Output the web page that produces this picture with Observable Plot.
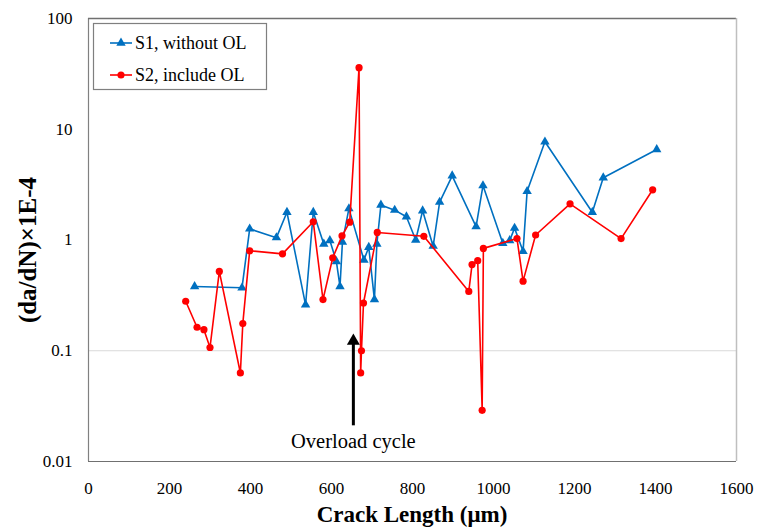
<!DOCTYPE html>
<html>
<head>
<meta charset="utf-8">
<script src="https://cdn.jsdelivr.net/npm/d3@7"></script>
<script src="https://cdn.jsdelivr.net/npm/@observablehq/plot@0.6"></script>
<style>
  html, body { margin: 0; padding: 0; background: #fff; }
  #chart { position: relative; width: 757px; height: 530px; }
</style>
</head>
<body>
<div id="chart"></div>
<script>
// ---- data ----
const s1Name = "S1, without OL";
const s1X = [262,379,398,464,490,536,555,581,596,612,621,627,643,680,692,706,712,722,756,785,808,825,851,867,898,957,974,1023,1040,1052,1073,1083,1127,1244,1271,1403];
const s1Y = [0.38,0.37,1.26,1.05,1.78,0.26,1.78,0.92,0.99,0.64,0.38,0.96,1.92,0.66,0.86,0.29,0.92,2.07,1.86,1.62,1.0,1.84,0.88,2.2,3.8,1.32,3.1,0.935,0.99,1.28,0.79,2.75,7.7,1.78,3.65,6.56];

const s2Name = "S2, include OL";
const s2X = [240,268,285,300,323,375,381,398,479,555,579,603,626,645,668,672,674,679,713,828,939,947,961,972,975,1058,1073,1104,1189,1315,1393];
const s2Y = [0.28,0.163,0.155,0.107,0.52,0.063,0.176,0.80,0.75,1.46,0.29,0.69,1.09,1.45,36,0.063,0.1,0.27,1.17,1.08,0.343,0.60,0.65,0.029,0.84,1.03,0.425,1.11,2.12,1.03,2.84];

const xTicks = [0,200,400,600,800,1000,1200,1400,1600];
const yTicks = [0.01,0.1,1,10,100];
const gridY = [0.1];

const xTitle = "Crack Length (μm)";
const yTitle = "(da/dN)×1E-4";

// annotation: overload arrow and label
const annX = [654];
const annArrowFrom = [0.021];
const annArrowTo = [0.1225];
const annLabel = ["Overload cycle"];
const annLabelY = [0.0151];

const s1 = s1X.map((x, i) => ({x, y: s1Y[i]}));
const s2 = s2X.map((x, i) => ({x, y: s2Y[i]}));
const ann = annX.map((x, i) => ({x, y1: annArrowFrom[i], y2: annArrowTo[i], label: annLabel[i], ly: annLabelY[i]}));

const blue = "#0070C0";
const red = "#FF0000";
const serif = "'Liberation Serif', 'Times New Roman', serif";

const chart = Plot.plot({
  width: 757,
  height: 530,
  marginLeft: 88,
  marginRight: 21,
  marginTop: 18,
  marginBottom: 69,
  style: {fontFamily: serif, fontSize: "17px", color: "#000", background: "#fff", overflow: "visible"},
  x: {domain: [0, 1600], ticks: xTicks, tickSize: 0, tickPadding: 20, tickFormat: d => String(d), label: null},
  y: {type: "log", domain: [0.01, 100], ticks: yTicks, tickSize: 0, tickPadding: 16, tickFormat: d => String(d), label: null},
  marks: [
    Plot.ruleY(gridY, {stroke: "#d9d9d9", strokeWidth: 1}),
    Plot.ruleX([0], {stroke: "#808080", strokeWidth: 1.2}),
    Plot.ruleY([100], {stroke: "#707070", strokeWidth: 1.5}),
    Plot.ruleY([0.01], {stroke: "#707070", strokeWidth: 1.2}),
    Plot.ruleX([1600], {stroke: "#bfbfbf", strokeWidth: 1.5}),
    Plot.line(s1, {x: "x", y: "y", stroke: blue, strokeWidth: 1.6}),
    Plot.dot(s1, {x: "x", y: "y", symbol: "triangle", r: 3.5, fill: blue, stroke: "none"}),
    Plot.line(s2, {x: "x", y: "y", stroke: red, strokeWidth: 1.6}),
    Plot.dot(s2, {x: "x", y: "y", symbol: "circle", r: 3.6, fill: red, stroke: "none"}),
    Plot.ruleX(ann, {x: "x", y1: "y1", y2: "y2", stroke: "#000", strokeWidth: 3}),
    Plot.dot(ann, {x: "x", y: "y2", symbol: "triangle", r: 4.8, fill: "#000", stroke: "none"}),
    Plot.text(ann, {x: "x", y: "ly", text: "label", fontSize: 20.5, fontFamily: serif, fill: "#000"})
  ]
});

document.getElementById("chart").appendChild(chart);

// titles and legend
const svg = d3.select(chart);
svg.append("text")
  .attr("x", 412).attr("y", 522)
  .attr("text-anchor", "middle")
  .attr("font-family", serif).attr("font-size", 23).attr("font-weight", "bold")
  .attr("fill", "#000")
  .text(xTitle);
svg.append("text")
  .attr("transform", "translate(36,250) rotate(-90)")
  .attr("text-anchor", "middle")
  .attr("font-family", serif).attr("font-size", 25).attr("font-weight", "bold")
  .attr("fill", "#000")
  .text(yTitle);

const legendItems = [
  {name: s1Name, color: blue, symbol: d3.symbolTriangle, size: 38},
  {name: s2Name, color: red, symbol: d3.symbolCircle, size: 40}
];
const lg = svg.append("g");
lg.append("rect").attr("x", 93.5).attr("y", 23.5).attr("width", 173).attr("height", 66)
  .attr("fill", "#fff").attr("stroke", "#7f7f7f").attr("stroke-width", 1.2);
legendItems.forEach((it, i) => {
  const cy = 43 + i * 32;
  lg.append("line").attr("x1", 110).attr("x2", 132).attr("y1", cy).attr("y2", cy)
    .attr("stroke", it.color).attr("stroke-width", 1.6);
  lg.append("path").attr("d", d3.symbol(it.symbol, it.size)()).attr("transform", `translate(121,${cy})`)
    .attr("fill", it.color);
  lg.append("text").attr("x", 135).attr("y", cy + 6)
    .attr("text-anchor", "start")
    .attr("font-family", serif).attr("font-size", 18).attr("fill", "#000")
    .text(it.name);
});
</script>
</body>
</html>
